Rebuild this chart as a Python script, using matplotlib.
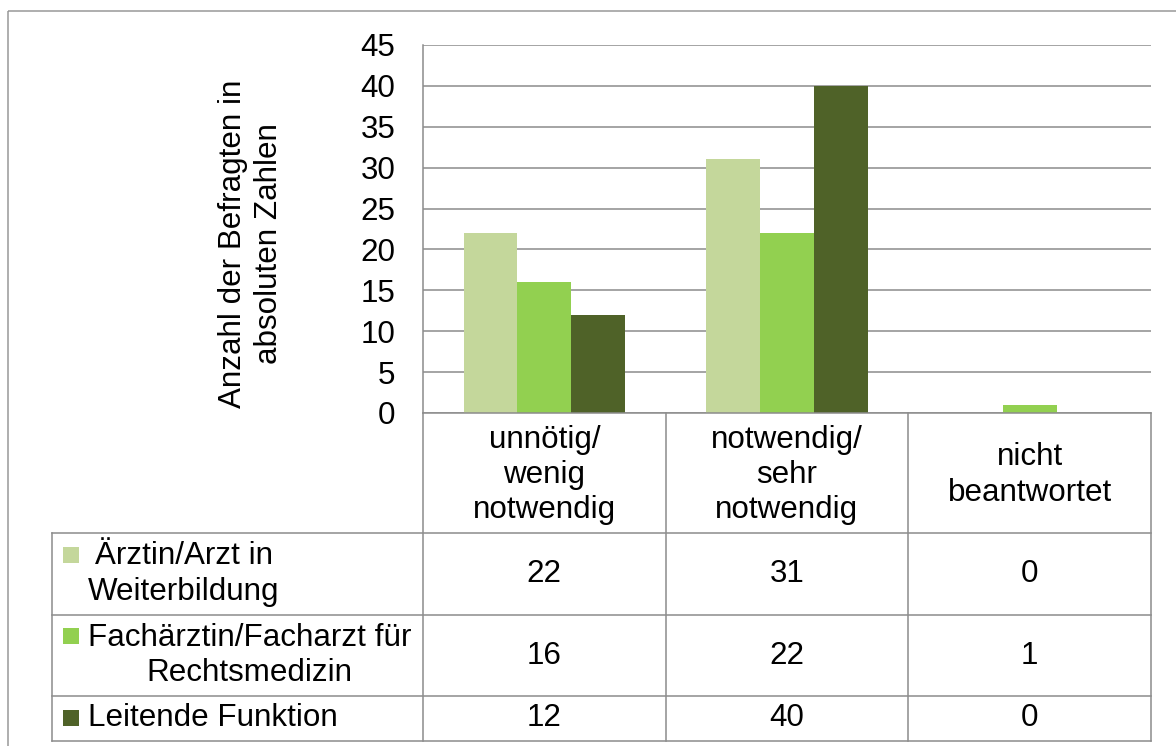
import numpy as np
import matplotlib.pyplot as plt
from matplotlib.patches import Rectangle

plt.rcParams['font.family'] = ['Liberation Sans', 'DejaVu Sans']

categories = ['unnötig/\nwenig\nnotwendig', 'notwendig/\nsehr\nnotwendig', 'nicht\nbeantwortet']
series_names = ['Ärztin/Arzt in\nWeiterbildung', 'Fachärztin/Facharzt für\nRechtsmedizin', 'Leitende Funktion']
series_colors = ['#c4d79b', '#92d050', '#4f6228']
weiterbildung = [22, 31, 0]
facharzt = [16, 22, 1]
leitend = [12, 40, 0]
y_ticks = [0, 5, 10, 15, 20, 25, 30, 35, 40, 45]
y_label = 'Anzahl der Befragten in\nabsoluten Zahlen'

W, H = 1176, 746
line_col = '#8c8c8c'
lw = 1.1
fs = 22.6
ls = 1.22

# pixel layout of plot area and data table
plot_left, plot_right = 423, 1151
plot_top, plot_bottom = 45, 413
tab_left = 52
row_lines = [533, 615, 696, 741]

fig = plt.figure(figsize=(W / 100, H / 100), dpi=100)

ax = fig.add_axes([plot_left / W, 1 - plot_bottom / H,
                   (plot_right - plot_left) / W, (plot_bottom - plot_top) / H])
x = np.arange(len(categories))
bw = 0.222
for i, vals in enumerate([weiterbildung, facharzt, leitend]):
    ax.bar(x + (i - 1) * bw, vals, bw, color=series_colors[i], zorder=3)
ax.set_xlim(-0.5, len(categories) - 0.5)
ax.set_ylim(0, 45)
ax.set_yticks(y_ticks)
ax.set_xticks([])
ax.tick_params(axis='y', length=0, pad=20, labelsize=fs)
ax.yaxis.grid(True, color=line_col, lw=lw, zorder=0)
for s in ['top', 'right', 'bottom']:
    ax.spines[s].set_visible(False)
ax.spines['left'].set_color(line_col)
ax.spines['left'].set_linewidth(lw)

# overlay in pixel coordinates for the table and the frame
ov = fig.add_axes([0, 0, 1, 1], zorder=-1)
ov.set_xlim(0, W)
ov.set_ylim(H, 0)
ov.axis('off')
ov.add_patch(Rectangle((8, 11), W + 20, H + 20, fill=False, ec='#999999', lw=lw))

tab = fig.add_axes([0, 0, 1, 1], zorder=5)
tab.set_xlim(0, W)
tab.set_ylim(H, 0)
tab.axis('off')
tab.patch.set_alpha(0)

col_w = (plot_right - plot_left) / len(categories)
col_edges = [plot_left + k * col_w for k in range(len(categories) + 1)]

tab.plot([plot_left, plot_right], [plot_bottom, plot_bottom], color=line_col, lw=lw)
for y in row_lines:
    tab.plot([tab_left, plot_right], [y, y], color=line_col, lw=lw)
tab.plot([tab_left, tab_left], [row_lines[0], row_lines[-1]], color=line_col, lw=lw)
for xe in col_edges:
    tab.plot([xe, xe], [plot_bottom, row_lines[-1]], color=line_col, lw=lw)

# category header row
for k, cat in enumerate(categories):
    tab.text(col_edges[k] + col_w / 2, (plot_bottom + row_lines[0]) / 2 + 2, cat,
             ha='center', va='center', ma='center', fontsize=fs, linespacing=ls)

# data rows with legend keys
row_tops = [row_lines[0], row_lines[1], row_lines[2]]
row_bots = [row_lines[1], row_lines[2], row_lines[3]]
key_y = [547, 628, 710]
for i, (name, vals) in enumerate(zip(series_names, [weiterbildung, facharzt, leitend])):
    yc = (row_tops[i] + row_bots[i]) / 2
    tab.add_patch(Rectangle((63, key_y[i]), 16, 16, color=series_colors[i], lw=0))
    tab.text(88, yc, name, ha='left', va='center', ma='center', fontsize=fs, linespacing=ls)
    for k, v in enumerate(vals):
        tab.text(col_edges[k] + col_w / 2, yc, str(v), ha='center', va='center', fontsize=fs)

tab.text(251, 244, y_label, rotation=90, ha='center', va='center', ma='center',
         fontsize=fs, linespacing=ls)

fig.savefig('out.png', dpi=100)
